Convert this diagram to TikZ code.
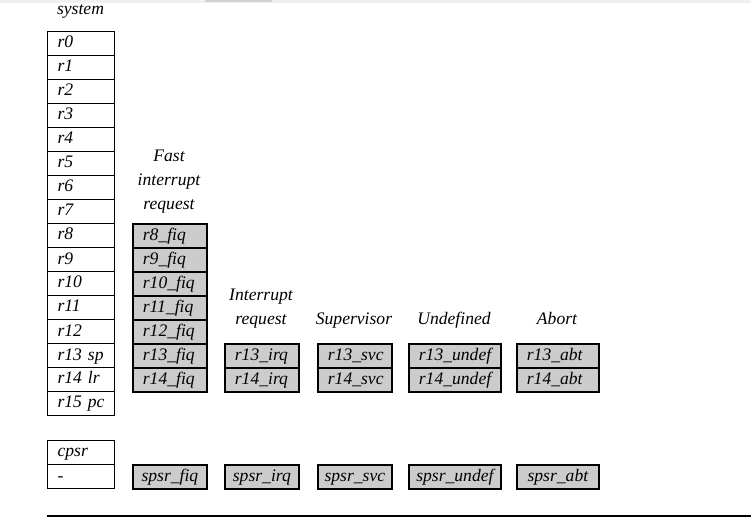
\documentclass[tikz,border=0pt]{standalone}
\usepackage{fontspec}
\setmainfont{Liberation Serif}
\tikzset{
  reg/.style={draw, line width=0.6pt, anchor=north west, inner xsep=5pt, inner ysep=0pt,
    minimum height=12pt, text width=#1, align=left, text height=6.2pt, text depth=1.8pt},
  bank/.style={reg=#1, line width=0.9pt, fill=gray!40},
  spsrbox/.style={draw, line width=0.9pt, fill=gray!40, anchor=north west, inner sep=0pt,
    minimum width=#1, minimum height=12pt, text height=6.2pt, text depth=1.8pt},
  mode/.style={align=center, anchor=south, inner sep=0pt, text depth=2pt},
}
\begin{document}
\begin{tikzpicture}[x=0.5pt,y=-0.5pt,font=\fontsize{8.8}{12}\selectfont\itshape]
	\useasboundingbox (0,0) rectangle (751,519);
	\fill[gray!12] (0,0) rectangle (751,3);
	\fill[gray!35] (205,0) rectangle (272,2);
	% user/system registers
	\node[mode] (hsys) at (80.5,19) {system};
	\foreach \i/\t in {0/r0,1/r1,2/r2,3/r3,4/r4,5/r5,6/r6,7/r7,8/r8,9/r9,10/r10,11/r11,12/r12,13/r13 sp,14/r14 lr,15/r15 pc}
		\node[reg=23.5pt] (r\i) at (47,{31+24*\i}) {\t};
	\node[reg=23.5pt] (cpsr) at (47,440) {cpsr};
	\node[reg=23.5pt] (cpsrval) at (47,464) {-};
	% fast interrupt bank
	\node[mode] (hfiq) at (169,214) {Fast\\interrupt\\request};
	\foreach \i in {8,...,14}
		\node[bank=27pt] (fiq\i) at (132,{31+24*\i}) {r\i\_fiq};
	\node[spsrbox=37pt] (spsrfiq) at (132,464) {spsr\_fiq};
	% other modes
	\node[mode] (hirq) at (261,329) {Interrupt\\request};
	\node[mode] (hsvc) at (354,329) {Supervisor};
	\node[mode] (hundef) at (454,329) {Undefined};
	\node[mode] (habt) at (557,329) {Abort};
	\foreach \m/\x/\w/\tw in {irq/224/37pt/27pt, svc/317/37pt/27pt, undef/408/46pt/36pt, abt/516/41pt/31pt} {
		\node[bank=\tw] (\m13) at (\x,343) {r13\_\m};
		\node[bank=\tw] (\m14) at (\x,367) {r14\_\m};
		\node[spsrbox=\w] (spsr\m) at (\x,464) {spsr\_\m};
	}
	\draw[line width=1pt] (47,516) -- (751,516);
\end{tikzpicture}
\end{document}
